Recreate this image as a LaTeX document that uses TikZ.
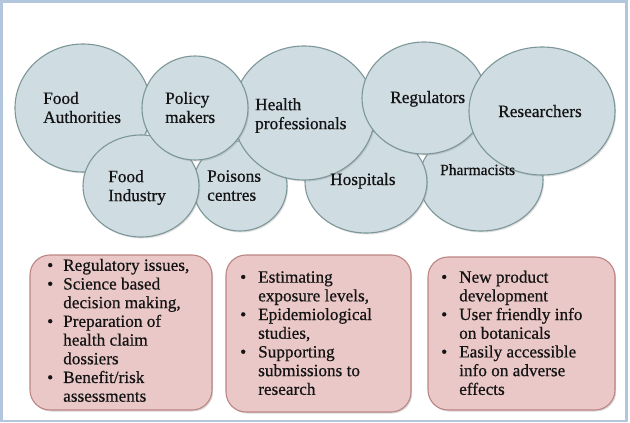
\documentclass[tikz,border=0pt]{standalone}
\usepackage{fontspec}
\setmainfont{Liberation Serif}[FakeBold=0.6]
\usetikzlibrary{shadows}
\definecolor{ellfill}{HTML}{CFDCE2}
\definecolor{elldraw}{HTML}{7D9799}
\definecolor{boxfill}{HTML}{EAC8C7}
\definecolor{boxdraw}{HTML}{BD8583}
\definecolor{framec}{HTML}{B2C7DD}
\definecolor{txt}{HTML}{141414}
\begin{document}
\begin{tikzpicture}[x=1pt,y=-1pt,
  bubble/.style={draw=elldraw, fill=ellfill, line width=1.1pt,
    drop shadow={opacity=0.25, shadow xshift=1.2pt, shadow yshift=-1.5pt}},
  lbl/.style={inner sep=0pt, align=left, text=txt, font=\fontsize{17.3}{19}\selectfont},
  infobox/.style={draw=boxdraw, fill=boxfill, line width=1.1pt, rounded corners=20pt,
    drop shadow={opacity=0.3, shadow xshift=1.2pt, shadow yshift=-1.5pt}},
  blist/.style={inner sep=0pt, anchor=west, text=txt, font=\fontsize{17.2}{18.7}\selectfont}
]
\useasboundingbox (0,0) rectangle (630,423);
\draw[framec, line width=2.5pt] (1.5,1.5) rectangle (626.5,421);

% ellipses, back to front
\path[bubble] (481,180) ellipse [x radius=62, y radius=51];
\path[bubble] (366,182) ellipse [x radius=61, y radius=51];
\path[bubble] (240,186) ellipse [x radius=47, y radius=45];
\path[bubble] (83,108) ellipse [x radius=68, y radius=64];
\path[bubble] (141,186) ellipse [x radius=58, y radius=51];
\path[bubble] (304,113) ellipse [x radius=71, y radius=67];
\path[bubble] (424,98) ellipse [x radius=62, y radius=56];
\path[bubble] (542,111) ellipse [x radius=73, y radius=64];
\path[bubble] (195,108) ellipse [x radius=53, y radius=52];

% labels
\node[lbl, anchor=west] (fa) at (43,107.5) {Food\\Authorities};
\node[lbl, anchor=west] (pm) at (165,107.5) {Policy\\makers};
\node[lbl, anchor=west] (hp) at (255,115.5) {Health\\professionals};
\node[lbl, anchor=west] (fi) at (108,187.5) {Food\\Industry};
\node[lbl, anchor=west] (pc) at (207,185.6) {Poisons\\centres};
\node[lbl, anchor=base west] (ho) at (330,185) {Hospitals};
\node[lbl, anchor=base west] (re) at (390,103) {Regulators};
\node[lbl, anchor=base west] (rs) at (498,117) {Researchers};
\node[lbl, anchor=base west, font=\fontsize{15.5}{17}\selectfont] (ph) at (440,175) {Pharmacists};

% bottom boxes
\draw[infobox] (30,255) rectangle (212,410);
\draw[infobox] (226,255) rectangle (411,412);
\draw[infobox] (428,257) rectangle (615,410);

\node[blist] (b1) at (47,332.5) {\begin{tabular}{@{}l@{\hspace{10pt}}l@{}}
\textbullet & Regulatory issues,\\
\textbullet & Science based\\
 & decision making,\\
\textbullet & Preparation of\\
 & health claim\\
 & dossiers\\
\textbullet & Benefit/risk\\
 & assessments
\end{tabular}};
\node[blist] (b2) at (240,335) {\begin{tabular}{@{}l@{\hspace{12pt}}l@{}}
\textbullet & Estimating\\
 & exposure levels,\\
\textbullet & Epidemiological\\
 & studies,\\
\textbullet & Supporting\\
 & submissions to\\
 & research
\end{tabular}};
\node[blist] (b3) at (441,335) {\begin{tabular}{@{}l@{\hspace{12pt}}l@{}}
\textbullet & New product\\
 & development\\
\textbullet & User friendly info\\
 & on botanicals\\
\textbullet & Easily accessible\\
 & info on adverse\\
 & effects
\end{tabular}};
\end{tikzpicture}
\end{document}
